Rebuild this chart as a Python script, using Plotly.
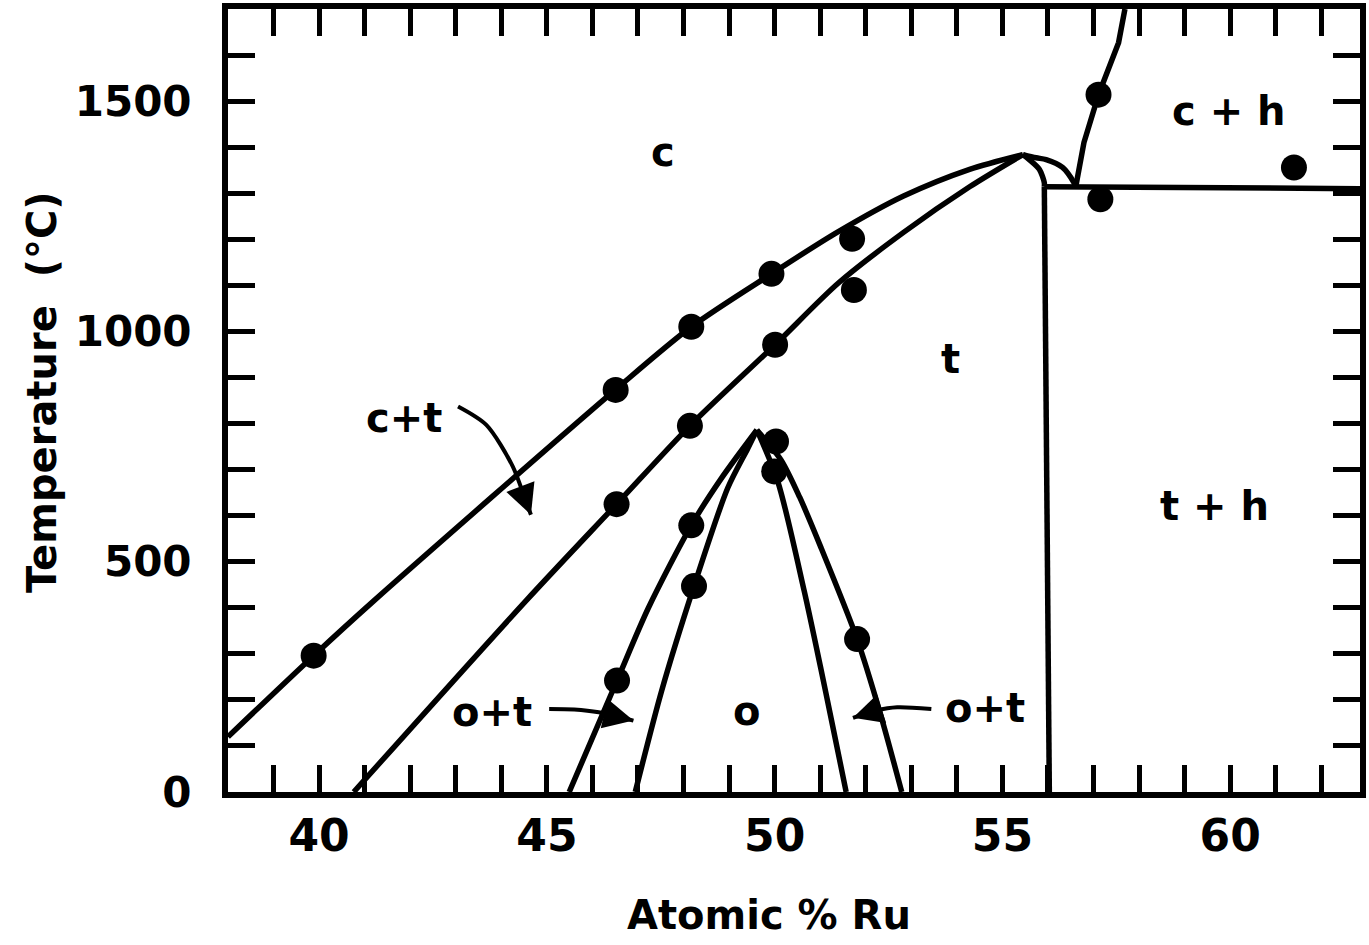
import plotly.graph_objects as go

# ---------------- axis ticks ----------------
x_ticks = list(range(39, 63))
x_ticklabels = [str(v) if v % 5 == 0 else "" for v in x_ticks]
y_ticks = list(range(0, 1700, 100))
y_ticklabels = [str(v) if v % 500 == 0 else "" for v in y_ticks]

# ---------------- phase boundaries (at.% Ru, deg C) ----------------
upper_x = [38.0, 39.88, 41.2, 46.50, 48.17, 49.93, 51.37, 52.83, 54.28, 55.45]
upper_y = [120, 296, 415, 873, 1010, 1125, 1215, 1294, 1352, 1384]

lower_x = [40.76, 44.54, 46.53, 48.14, 50.01, 51.40, 52.83, 54.28, 55.45]
lower_y = [0, 415, 625, 795, 971, 1105, 1215, 1314, 1384]

inner_cap_x = [55.45, 55.59, 55.81, 55.92, 55.92]
inner_cap_y = [1384, 1373, 1352, 1323, 1314]

outer_cap_x = [55.45, 55.74, 55.96, 56.32, 56.57, 56.61]
outer_cap_y = [1384, 1377, 1373, 1356, 1323, 1314]

vert_x = [55.92, 56.03]
vert_y = [1314, 0]

horiz_x = [55.92, 62.85]
horiz_y = [1314, 1310]

ch_x = [56.61, 56.79, 57.11, 57.55, 57.69]
ch_y = [1314, 1410, 1514, 1627, 1700]

oA_x = [45.49, 46.54, 47.23, 48.17, 48.83, 49.61]
oA_y = [0, 242, 400, 579, 681, 786]
oB_x = [46.94, 47.52, 48.23, 48.97, 49.41, 49.61]
oB_y = [0, 220, 447, 660, 746, 786]
oC_x = [49.61, 50.07, 50.65, 51.01, 51.25, 51.57]
oC_y = [786, 674, 436, 270, 155, 0]
oD_x = [49.61, 50.14, 50.55, 51.02, 51.81, 52.32, 52.79]
oD_y = [786, 721, 640, 530, 332, 170, 0]

# ---------------- measured points ----------------
pts_x = [39.88, 46.51, 48.17, 49.93, 51.70, 46.53, 48.14, 50.01, 51.74,
         46.54, 48.17, 48.23, 50.03, 49.99, 51.81, 57.11, 57.15, 61.40]
pts_y = [296, 873, 1010, 1125, 1201, 625, 795, 971, 1090,
         242, 579, 447, 761, 696, 332, 1514, 1287, 1356]

# ---------------- region labels ----------------
lab_text = ["c", "c + h", "t", "t + h", "c+t", "o+t", "o", "o+t"]
lab_x = [47.55, 59.97, 53.86, 59.66, 41.86, 43.80, 49.39, 54.62]
lab_y = [1390, 1478, 941, 620, 812, 173, 175, 182]

# ---------------- curved pointer arrows ----------------
arr1_x = [43.05, 43.67, 44.25, 44.54, 44.65]
arr1_y = [837, 797, 707, 631, 602]
arr2_x = [45.05, 45.60, 46.14, 46.90]
arr2_y = [180, 179, 173, 155]
arr3_x = [53.44, 52.69, 52.23, 51.72]
arr3_y = [180, 184, 177, 161]

BLACK = "#000000"
LW = 5.5
FONT = "DejaVu Sans"

fig = go.Figure()


def add_line(xs, ys, width=LW, shape="spline"):
    fig.add_trace(go.Scatter(x=xs, y=ys, mode="lines",
                             line=dict(color=BLACK, width=width, shape=shape, smoothing=0.8),
                             hoverinfo="skip", showlegend=False))


for xs, ys in [(upper_x, upper_y), (lower_x, lower_y), (inner_cap_x, inner_cap_y),
               (outer_cap_x, outer_cap_y), (oA_x, oA_y), (oB_x, oB_y),
               (oC_x, oC_y), (oD_x, oD_y)]:
    add_line(xs, ys)
for xs, ys in [(vert_x, vert_y), (horiz_x, horiz_y), (ch_x, ch_y)]:
    add_line(xs, ys, shape="linear")

for xs, ys in [(arr1_x, arr1_y), (arr2_x, arr2_y), (arr3_x, arr3_y)]:
    add_line(xs, ys, width=4)

fig.add_trace(go.Scatter(x=pts_x, y=pts_y, mode="markers",
                         marker=dict(color=BLACK, size=26, line=dict(width=0)),
                         hoverinfo="skip", showlegend=False))

annotations = []
for t, x, y in zip(lab_text, lab_x, lab_y):
    annotations.append(dict(x=x, y=y, xref="x", yref="y", text=t, showarrow=False,
                            font=dict(family=FONT, size=40, color=BLACK, weight="bold")))

for xs, ys in [(arr1_x, arr1_y), (arr2_x, arr2_y), (arr3_x, arr3_y)]:
    annotations.append(dict(x=xs[-1], y=ys[-1], ax=xs[-2], ay=ys[-2], xref="x", yref="y",
                            axref="x", ayref="y", text="", showarrow=True,
                            arrowhead=2, arrowsize=1.5, arrowwidth=4, arrowcolor=BLACK,
                            standoff=0, startstandoff=0))

# axis titles
annotations.append(dict(x=0.478, y=-0.157, xref="paper", yref="paper", text="Atomic % Ru",
                        showarrow=False, xanchor="center", yanchor="middle",
                        font=dict(family=FONT, size=40, color=BLACK, weight="bold")))
annotations.append(dict(x=-0.165, y=0.51, xref="paper", yref="paper",
                        text="Temperature\u00a0\u00a0(\u00b0C)", textangle=-90,
                        showarrow=False, xanchor="center", yanchor="middle",
                        font=dict(family=FONT, size=40, color=BLACK, weight="bold")))

axis_common = dict(showline=True, linewidth=6, linecolor=BLACK, mirror="ticks",
                   ticks="inside", ticklen=27, tickwidth=4.5, tickcolor=BLACK,
                   showgrid=False, zeroline=False, fixedrange=True)

fig.update_layout(
    width=1369, height=945,
    margin=dict(l=228, r=3, t=7, b=153),
    paper_bgcolor="white", plot_bgcolor="white",
    showlegend=False,
    annotations=annotations,
    xaxis=dict(range=[38, 62.85], tickmode="array", tickvals=x_ticks, ticktext=x_ticklabels,
               tickfont=dict(family=FONT, size=44, color=BLACK, weight="bold"),
               ticklabelstandoff=0, **axis_common),
    yaxis=dict(range=[0, 1700], tickmode="array", tickvals=y_ticks, ticktext=y_ticklabels,
               tickfont=dict(family=FONT, size=42, color=BLACK, weight="bold"),
               ticklabelstandoff=22, **axis_common),
)

fig.write_html("out.html", config={"displayModeBar": False},
               post_script="document.body.style.margin='0';document.body.style.overflow='hidden';")
